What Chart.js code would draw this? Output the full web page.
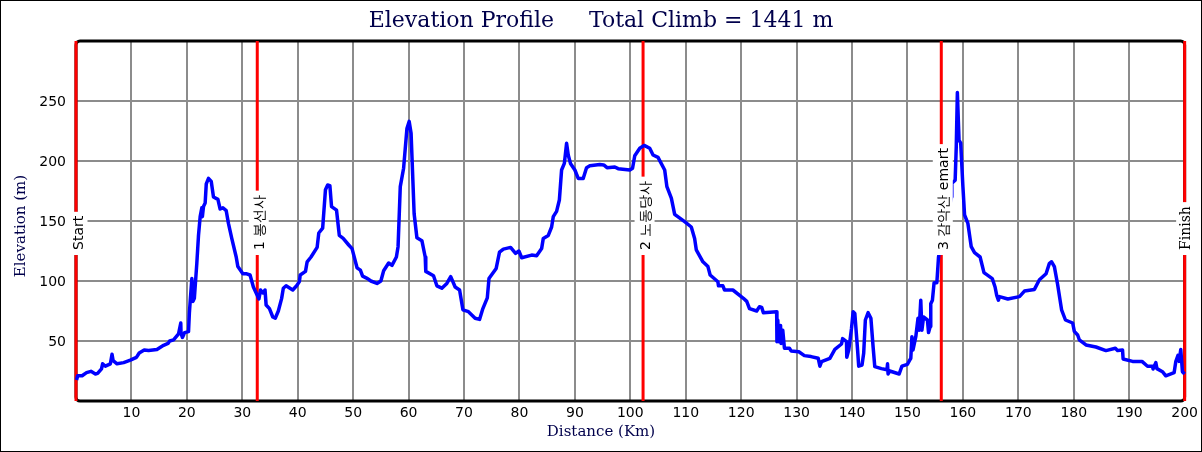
<!DOCTYPE html>
<html><head><meta charset="utf-8">
<script src="https://cdn.jsdelivr.net/npm/chart.js@4"></script>
<style>
html,body{margin:0;padding:0;background:#fff}
#wrap{position:relative;width:1202px;height:452px;overflow:hidden}
#frame{position:absolute;inset:0;border:1px solid #000;box-sizing:border-box;pointer-events:none}
canvas{position:absolute;left:0;top:0}
</style></head><body>
<div id="wrap"><canvas id="c" width="1202" height="452"></canvas><div id="frame"></div></div>
<script>
const distanceKm=[0.1,0.3,1.1,1.9,2.7,3.5,3.9,4.6,4.8,5.3,6.2,6.5,6.7,7.4,8.6,9.8,10.9,11.4,12.3,13.1,14.6,15.8,16.6,16.9,17.6,18.5,18.9,18.95,19.2,19.6,20.3,20.45,20.6,20.9,21.1,21.35,21.8,22.1,22.4,22.7,22.8,23,23.3,23.5,23.9,24.4,24.8,25.6,26,26.5,27.1,27.5,28.1,28.9,29.2,30.1,30.8,31.4,32,33,33.3,33.7,34.1,34.3,34.9,35.5,35.95,36.5,37.1,37.4,37.9,39.1,39.8,40.3,40.45,41.4,41.7,42.4,43.5,43.8,44.5,45,45.4,45.8,46.1,47,47.5,48.2,49.2,49.8,50.7,51.3,51.7,52.6,53.2,54.3,55,55.5,56.4,57,57.8,58.1,58.5,59.1,59.7,60.1,60.45,61,61.5,62.4,63,63.1,64.5,65.1,66,66.9,67.6,68.4,69.2,69.8,70.8,72,72.8,73.4,74.2,74.5,75.8,76.4,77.1,78.4,79.3,79.9,80.4,82.2,83.1,84,84.3,85.2,85.8,86.1,86.7,87.2,87.6,88.1,88.5,88.8,89.2,90,90.6,91.5,92.1,92.7,94.5,95.2,95.8,97.2,97.8,99.9,100.4,100.8,101.7,102.5,103.5,104.1,105,106.2,106.6,107.4,108,109.8,111,111.6,111.9,113.1,114,114.4,115.8,115.9,116.7,117,118.5,120.4,121,121.5,122.8,123.3,123.7,124,126.4,126.45,126.6,126.8,127.1,127.2,127.5,127.8,128.7,129,130.4,131.4,132.6,133.9,134.2,134.5,136,136.9,138.1,138.3,139,139.05,139.4,139.6,139.9,140.2,140.5,141,141.2,141.8,142.1,142.4,142.9,143.4,143.8,144.1,145.3,146.3,146.4,146.5,146.8,148.5,149,150,150.4,150.6,150.8,151,151.5,151.9,152.1,152.4,152.6,152.9,153.6,153.8,154.1,154.2,154.5,154.8,155.3,155.6,156.2,157.2,157.95,158,158.6,158.8,159,159.1,159.3,159.6,160,160.3,160.9,161.5,162.1,163.1,163.8,165.3,165.8,166.1,166.4,166.6,168.1,170.2,171.1,172.9,173.8,175,175.6,176,176.5,177.1,177.8,178.5,179.8,180.1,180.7,181,182.2,184,185.8,187.5,187.9,188.8,188.9,190.6,192.3,193.3,194.2,194.3,194.8,195,196,196.6,198.1,198.4,198.8,199,199.3,199.6,200];
const elevationM=[17.5,21,21,23.6,24.7,22.5,23,26.7,31,29,31,39,33.6,31,32,34,36.4,40,42.5,42,43,46.4,48,50,51,56,65,56.4,53,57,57.8,73,83,102,83,85.6,115,138,153.6,161,153.6,162,165,181,185.5,183,170,168,160,161,158.6,148,135.5,120,112,106,106,105,95,85,92.5,90,92.5,80,77,70,69,75,85.5,94,96,92.5,96,99.5,105,108,116,120,128,140,144,176,180,179.5,162,159,138,135.5,130,127,111,109,104,102,100,98,100,108.6,115,113,120,128.6,178.6,194,227,233,223,156,136,133.6,120,108,104.4,96,94,98,103.6,95,92.5,76,74.4,69,68,77,86,102,110.5,124,126.6,128,123,125,119.4,121.6,121,127,135.5,138,145,153.6,158,167.5,192.5,198,214.7,205,198,192.5,185.5,185.5,194.4,196,197,196.7,194.4,195,193.6,192.5,194,204.4,210.6,213,210.6,205,203,192.5,178.6,169,155.6,149.4,145,135.5,126,116,112,105,99.4,96,96,92.5,92.5,85.6,83,77,75,78.6,78,73.6,74.4,49.4,67.5,49.4,63,48,59,44,44,41.7,41,37.8,37,35.6,29,32.8,35.6,43,47.5,52,49.4,36.4,42.5,49.4,60.5,74.4,73,42.5,29,30,39.7,67.5,73.6,69,45,28.6,27,26,31,22.5,25,22.5,29,30.6,34,35.6,53.6,42.5,53.6,69,59,84,59,70,67.5,57,62,81,84,98.6,98.6,120,135,155,170,181.4,184,212,257,257,217.5,215,178.6,155,148,128.6,123.6,120,107,102,95,88,84,87,85,87,91.6,93,101,106,114.7,116,112,96.7,76,67.5,65,58,55,51,46.7,45,42,44,42,42.5,35,33,33,29,29,26.7,32,27,24.4,21,23.6,32.8,38,33,43,24.4,22.5];
const stopKm=[0,32.7,102.3,156.1,200];
const stopLabels=['Start','1 봉선사','2 노동당사','3 감악산 emart','Finish'];
const xTicks=[10,20,30,40,50,60,70,80,90,100,110,120,130,140,150,160,170,180,190,200];
const yTicks=[50,100,150,200,250];
const titleText='Elevation Profile     Total Climb = 1441 m';
const xTitle='Distance (Km)';
const yTitle='Elevation (m)';
const navy='#00004b';
const gridColor='#8c8c8c';
const serif='"DejaVu Serif",serif';
const sans='"DejaVu Sans",sans-serif';

const profile=distanceKm.map((x,i)=>({x,y:elevationM[i]}));
const stopSets=stopKm.map(k=>({type:'line',data:[{x:k,y:0},{x:k,y:300}],borderColor:'#ff0000',borderWidth:3,pointRadius:0,clip:false,order:2}));

const framePlugin={id:'framePlugin',
 afterLayout(ch){ if(ch.titleBlock){ch.titleBlock.left=0;ch.titleBlock.right=1202;} },
 beforeDatasetsDraw(ch){
  const a=ch.chartArea,c=ch.ctx;c.save();c.strokeStyle='#000';c.lineWidth=3;
  c.beginPath();c.roundRect(a.left,a.top,a.right-a.left,a.bottom-a.top,4);c.stroke();c.restore();
 }};
const labelPlugin={id:'labelPlugin',afterDatasetsDraw(ch){
  const c=ch.ctx,xs=ch.scales.x,ys=ch.scales.y,W=ch.width,H=ch.height;
  c.save();
  stopKm.forEach((k,i)=>{
    const isSerif=stopLabels[i]==='Finish';
    c.font='14px '+(isSerif?serif:sans);
    const w=c.measureText(stopLabels[i]).width,px=xs.getPixelForValue(k),base=ys.getPixelForValue(125)-1;
    c.fillStyle='#fff';c.fillRect(px+1.5-10,base-w-4,20,w+9);
    c.save();c.translate(px+(isSerif?5:6.5),base);c.rotate(-Math.PI/2);
    c.fillStyle='#000';c.textAlign='left';c.textBaseline='alphabetic';c.fillText(stopLabels[i],0,0);
    c.restore();
  });
  c.fillStyle=navy;c.font='15px '+serif;c.textAlign='center';c.textBaseline='middle';
  c.fillText(xTitle,W/2,432);
  c.save();c.translate(21,H/2);c.rotate(-Math.PI/2);c.fillText(yTitle,0,0);c.restore();
  c.restore();
}};
new Chart(document.getElementById('c'),{
  type:'scatter',
  data:{datasets:[{type:'line',data:profile,borderColor:'#0000ff',borderWidth:3.5,borderJoinStyle:'round',pointRadius:0,tension:0,clip:false,order:1},...stopSets]},
  plugins:[framePlugin,labelPlugin],
  options:{
    responsive:false,animation:false,devicePixelRatio:1,
    layout:{padding:{left:0,right:15.5,top:0,bottom:0}},
    plugins:{legend:{display:false},tooltip:{enabled:false},
      title:{display:true,text:titleText,color:navy,font:{family:serif,size:22,weight:'normal',lineHeight:1.2},padding:{top:8.5,bottom:6.1}}},
    scales:{
      x:{type:'linear',min:0,max:200,afterFit(s){s.height=51},
        afterBuildTicks(s){s.ticks=xTicks.map(value=>({value}))},
        grid:{color:gridColor,lineWidth:2,drawTicks:false},border:{display:false},
        ticks:{color:'#000',font:{family:sans,size:14},padding:4,maxRotation:0,autoSkip:false}},
      y:{type:'linear',min:0,max:300,afterFit(s){s.width=76},
        afterBuildTicks(s){s.ticks=yTicks.map(value=>({value}))},
        grid:{color:gridColor,lineWidth:2,drawTicks:false},border:{display:false},
        ticks:{color:'#000',font:{family:sans,size:14},padding:10,labelOffset:1,autoSkip:false}}
    }
  }
});
</script></body></html>
